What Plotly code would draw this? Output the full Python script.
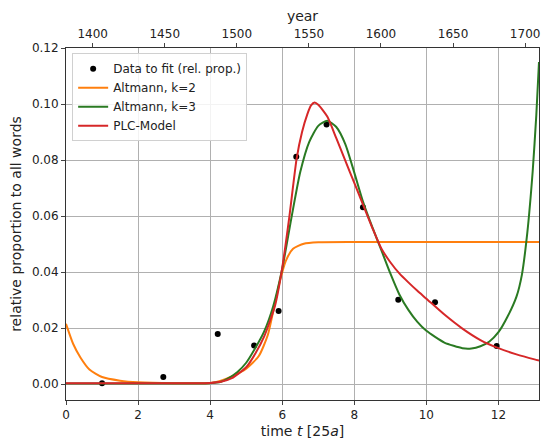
import plotly.graph_objects as go

# ---- data ----
data_t = [1.0, 2.7, 4.21, 5.22, 5.90, 6.39, 7.23, 8.24, 9.22, 10.24, 11.95]
data_y = [0.0003, 0.0025, 0.0179, 0.0138, 0.0261, 0.0812, 0.0927, 0.0631, 0.0301, 0.0292, 0.0136]

orange_t = [0.0, 0.2, 0.4, 0.65, 1.0, 1.5, 2.0, 3.0, 4.0, 4.3, 4.6, 5.0, 5.35, 5.6, 5.8, 5.95,
            6.1, 6.3, 6.6, 7.0, 8.0, 10.0, 13.125]
orange_y = [0.0215, 0.0143, 0.0095, 0.0052, 0.0025, 0.0012, 0.0006, 0.0003, 0.0004, 0.0012,
            0.0027, 0.0055, 0.0100, 0.0175, 0.0290, 0.0375, 0.0440, 0.0483, 0.0501, 0.0506,
            0.0507, 0.0507, 0.0507]

green_t = [0.0, 3.5, 4.0, 4.3, 4.5, 4.75, 5.0, 5.25, 5.5, 5.75, 6.0, 6.25, 6.5, 6.75, 7.0,
           7.25, 7.5, 7.75, 8.0, 8.25, 8.5, 8.75, 9.0, 9.25, 9.5, 9.75, 10.0, 10.5, 11.0,
           11.25, 11.5, 11.75, 12.0, 12.25, 12.5, 12.65, 12.8, 12.95, 13.05, 13.125]
green_y = [0.0002, 0.0002, 0.0003, 0.0008, 0.0020, 0.0042, 0.0076, 0.0128, 0.0188, 0.0278,
           0.0412, 0.0590, 0.0757, 0.0865, 0.0922, 0.0940, 0.0918, 0.0857, 0.0755, 0.0648,
           0.0560, 0.0478, 0.0395, 0.0320, 0.0265, 0.0222, 0.0190, 0.0148, 0.0128, 0.0127,
           0.0135, 0.0152, 0.0185, 0.0240, 0.0312, 0.0390, 0.0540, 0.0760, 0.0960, 0.1150]

red_t = [0.0, 3.5, 4.0, 4.3, 4.6, 5.0, 5.25, 5.5, 5.8, 6.0, 6.2, 6.4, 6.55, 6.7, 6.8, 6.9,
         7.0, 7.25, 7.5, 7.75, 8.0, 8.25, 8.5, 8.75, 9.0, 9.25, 9.5, 9.75, 10.0, 10.5, 11.0,
         11.5, 12.0, 12.5, 13.0, 13.125]
red_y = [0.0003, 0.0003, 0.0004, 0.0008, 0.0021, 0.0060, 0.0108, 0.0170, 0.0280, 0.0415,
         0.0600, 0.0805, 0.0900, 0.0965, 0.0995, 0.1005, 0.0997, 0.0955, 0.0878, 0.0798,
         0.0718, 0.0638, 0.0558, 0.0484, 0.0435, 0.0395, 0.0363, 0.0333, 0.0305, 0.0248,
         0.0198, 0.0157, 0.0128, 0.0106, 0.0088, 0.0084]

year_ticks = [1400, 1450, 1500, 1550, 1600, 1650, 1700]
x_ticks = [0, 2, 4, 6, 8, 10, 12]
y_ticks = [0.0, 0.02, 0.04, 0.06, 0.08, 0.10, 0.12]

X_MAX = 13.125
YEAR0 = 1381.5

fig = go.Figure()
fig.add_trace(go.Scatter(x=data_t, y=data_y, mode="markers", name="Data to fit (rel. prop.)",
                         marker=dict(color="black", size=6)))
fig.add_trace(go.Scatter(x=orange_t, y=orange_y, mode="lines", name="Altmann, k=2",
                         line=dict(color="#ff7f0e", width=2, shape="spline", smoothing=0.6)))
fig.add_trace(go.Scatter(x=green_t, y=green_y, mode="lines", name="Altmann, k=3",
                         line=dict(color="#2a7a22", width=2, shape="spline", smoothing=0.6)))
fig.add_trace(go.Scatter(x=red_t, y=red_y, mode="lines", name="PLC-Model",
                         line=dict(color="#d62728", width=2, shape="spline", smoothing=0.6)))
# invisible trace to carry the top (year) axis
fig.add_trace(go.Scatter(x=[YEAR0, YEAR0 + 25 * X_MAX], y=[None, None], xaxis="x2",
                         mode="lines", showlegend=False, hoverinfo="skip"))

font = dict(family="DejaVu Sans", size=12, color="#222222")

fig.update_layout(
    width=542, height=441,
    margin=dict(l=66, r=3, t=48, b=41),
    paper_bgcolor="white", plot_bgcolor="white",
    font=font,
    xaxis=dict(range=[0, X_MAX], tickvals=x_ticks, ticks="outside", ticklen=4,
               showline=True, linecolor="#333333", linewidth=1,
               showgrid=True, gridcolor="#b0b0b0", gridwidth=1, zeroline=False,
               title=dict(text="time <i>t</i> [25<i>a</i>]", standoff=4)),
    xaxis2=dict(range=[YEAR0, YEAR0 + 25 * X_MAX], overlaying="x", side="top",
                tickvals=year_ticks, ticks="outside", ticklen=4,
                showline=True, linecolor="#333333", linewidth=1,
                showgrid=False, zeroline=False,
                title=dict(text="year", standoff=2)),
    yaxis=dict(range=[-0.0057, 0.12], tickvals=y_ticks, tickformat=".2f",
               ticks="outside", ticklen=4, mirror=True,
               showline=True, linecolor="#333333", linewidth=1,
               showgrid=True, gridcolor="#b0b0b0", gridwidth=1, zeroline=False,
               title=dict(text="relative proportion to all words", standoff=6)),
    legend=dict(x=0.013, y=0.985, xanchor="left", yanchor="top",
                bgcolor="rgba(255,255,255,0.85)", bordercolor="#d0d0d0", borderwidth=1,
                font=dict(family="DejaVu Sans", size=12, color="#222222"),
                tracegroupgap=0, itemwidth=30),
    showlegend=True,
)

fig.write_html("out.html", config={"displayModeBar": False},
               post_script="document.body.style.margin='0px';document.body.style.overflow='hidden';")
